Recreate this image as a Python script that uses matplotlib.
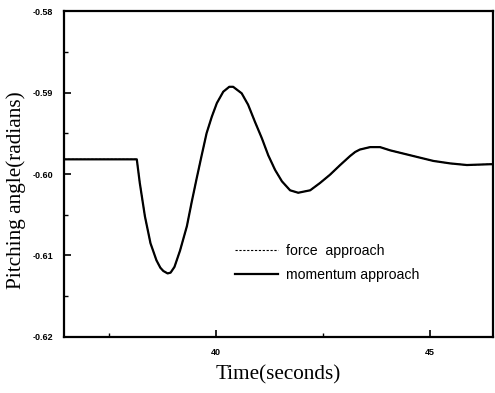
import matplotlib
matplotlib.use("Agg")
import matplotlib.pyplot as plt
from matplotlib.ticker import MultipleLocator, FormatStrFormatter

# values (time in s, pitch in rad)
time_s = [36.45, 38.15, 38.22, 38.34, 38.47, 38.61, 38.70, 38.77, 38.87,
          38.94, 39.03, 39.16, 39.32, 39.43, 39.55, 39.67, 39.78, 39.90,
          40.02, 40.17, 40.31, 40.40, 40.60, 40.75, 40.91, 41.07, 41.22,
          41.38, 41.54, 41.73, 41.92, 42.20, 42.43, 42.66, 42.90, 43.13,
          43.25, 43.36, 43.60, 43.83, 44.07, 44.38, 44.69, 45.08, 45.47,
          45.86, 46.40, 46.47]
momentum = [-0.5982, -0.5982, -0.6011, -0.6052, -0.6085, -0.6106, -0.6115,
            -0.6119, -0.6122, -0.6121, -0.6114, -0.6094, -0.6064, -0.6035,
            -0.6005, -0.5976, -0.5950, -0.5930, -0.5913, -0.5899, -0.5893,
            -0.5893, -0.5901, -0.5915, -0.5936, -0.5956, -0.5977, -0.5995,
            -0.6009, -0.6020, -0.6023, -0.6020, -0.6011, -0.6001, -0.5989,
            -0.5978, -0.5973, -0.5970, -0.5967, -0.5967, -0.5971, -0.5975,
            -0.5979, -0.5984, -0.5987, -0.5989, -0.5988, -0.5988]
# the two approaches coincide in the reference
force = list(momentum)

x_range = (36.45, 46.47)
y_range = (-0.62, -0.58)

fig = plt.figure(figsize=(4.95, 3.93), dpi=100)
ax = fig.add_axes([0.1293, 0.1425, 0.8667, 0.8295])

ax.plot(time_s, momentum, color="black", lw=1.6, label="momentum approach")
ax.plot(time_s, force, color="black", lw=0.8, ls=(0, (2, 1.5)), label="force  approach")

ax.set_xlim(*x_range)
ax.set_ylim(*y_range)

ax.xaxis.set_major_locator(MultipleLocator(5))
ax.xaxis.set_minor_locator(MultipleLocator(2.5))
ax.yaxis.set_major_locator(MultipleLocator(0.01))
ax.yaxis.set_minor_locator(MultipleLocator(0.005))
ax.xaxis.set_major_formatter(FormatStrFormatter("%d"))
ax.yaxis.set_major_formatter(FormatStrFormatter("%.2f"))

ax.tick_params(which="major", direction="in", length=5, width=1.2,
               labelsize=6.5, pad=8, top=False, right=False)
ax.tick_params(which="minor", direction="in", length=3, width=1.0,
               top=False, right=False)
for lab in ax.get_xticklabels() + ax.get_yticklabels():
    lab.set_fontweight("bold")
    lab.set_family("Liberation Sans")

for sp in ax.spines.values():
    sp.set_linewidth(1.6)

ax.set_xlabel("Time(seconds)", family="Liberation Serif", fontsize=15.3)
ax.set_ylabel("Pitching angle(radians)", family="Liberation Serif", fontsize=15.3)
ax.xaxis.set_label_coords(0.5, -0.088)
ax.yaxis.set_label_coords(-0.088, 0.45)

handles, labels = ax.get_legend_handles_labels()
ax.legend(handles[::-1], labels[::-1], loc="upper left",
          bbox_to_anchor=(0.37, 0.325), frameon=False,
          prop={"family": "Liberation Sans", "size": 10.2},
          handlelength=3.0, handletextpad=0.6, labelspacing=0.75)

fig.savefig("out.png", dpi=100)
